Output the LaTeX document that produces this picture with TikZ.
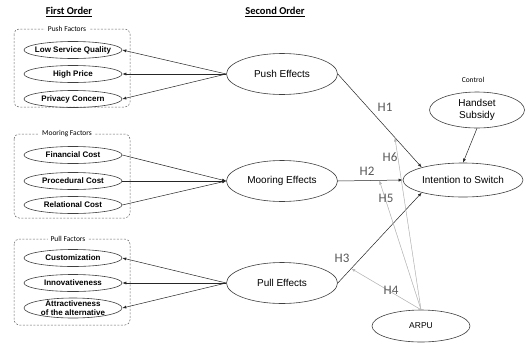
\documentclass[tikz,border=0pt]{standalone}
\usepackage{fontspec}
\setmainfont{Liberation Sans}
\newfontfamily\calib{Carlito}
\usetikzlibrary{shapes.geometric,arrows.meta,calc}
% zero-width text so the ellipse keeps its own size
\newcommand\zw[1]{\makebox[0pt][c]{#1}}
\begin{document}
\begin{tikzpicture}[x=1pt,y=-1pt,
  every node/.style={inner sep=0pt},
  fo/.style={ellipse,draw=black!75,line width=0.6pt,minimum width=98pt,minimum height=17pt,
    font=\bfseries\fontsize{8}{9}\selectfont},
  so/.style={ellipse,draw=black!75,line width=0.6pt,font=\fontsize{10}{12}\selectfont,align=center},
  grp/.style={draw=black!60,dash pattern=on 2pt off 1.5pt,rounded corners=5pt,line width=0.5pt},
  grplab/.style={fill=white,inner xsep=3pt,inner ysep=1pt,font=\calib\fontsize{7.5}{8}\selectfont},
  ttl/.style={font=\calib\bfseries\fontsize{10.5}{12}\selectfont},
  hyp/.style={font=\calib\fontsize{13}{14}\selectfont,text=black!65},
  arr/.style={-{Latex[length=4pt,width=3pt]},line width=0.5pt,draw=black!85},
  garr/.style={-{Latex[length=4pt,width=3pt]},line width=0.5pt,draw=black!28,fill=black!28}
]
\fill[white] (0,0) rectangle (526,343);

% titles
\node[ttl] (t1) at (69,12) {\underline{First Order}};
\node[ttl] (t2) at (275,12) {\underline{Second Order}};

% first-order groups
\draw[grp] (14,29) rectangle (130,107);
\node[grplab] (gpush) at (67,29) {Push Factors};
\draw[grp] (14,134) rectangle (130,218);
\node[grplab] (gmoor) at (67,134) {Mooring Factors};
\draw[grp] (14,239) rectangle (130,325);
\node[grplab] (gpull) at (68,239) {Pull Factors};

\node[fo] (lsq) at (73,50) {\zw{Low Service Quality}};
\node[fo] (hp)  at (73,74) {\zw{High Price}};
\node[fo] (pc)  at (73,99) {\zw{Privacy Concern}};

\node[fo] (fc) at (73,155) {\zw{Financial Cost}};
\node[fo] (prc) at (73,181) {\zw{Procedural Cost}};
\node[fo] (rc) at (73,205) {\zw{Relational Cost}};

\node[fo] (cu) at (73,258) {\zw{Customization}};
\node[fo] (inn) at (73,283) {\zw{Innovativeness}};
\node[fo,minimum height=20pt,font=\fontsize{8}{9}\selectfont\bfseries] (att) at (73,308)
  {\zw{\vbox to 6pt{\vss\hbox to 0pt{\hss Attractiveness\hss}\hbox to 0pt{\hss of the alternative\hss}\vss}}};

% second-order constructs
\node[so,minimum width=111pt,minimum height=41pt] (pushe) at (282,74) {Push Effects};
\node[so,minimum width=111pt,minimum height=41pt] (moore) at (282,181) {Mooring Effects};
\node[so,minimum width=111pt,minimum height=41pt] (pulle) at (282,283) {Pull Effects};

\node[so,minimum width=120pt,minimum height=34pt] (its) at (463,180) {Intention to Switch};
\node[so,minimum width=95pt,minimum height=36pt] (hs) at (477,110) {Handset\\Subsidy};
\node[font=\calib\fontsize{7.5}{8}\selectfont] (ctl) at (473,80) {Control};
\node[so,minimum width=98pt,minimum height=32pt,font=\fontsize{8.5}{10}\selectfont] (arpu) at (421,326) {ARPU};

% second order to first order
\draw[arr] (pushe.west) -- (lsq.east);
\draw[arr] (pushe.west) -- (hp.east);
\draw[arr] (pushe.west) -- (pc.east);
\draw[arr] (fc.east) -- (moore.west);
\draw[arr] (prc.east) -- (moore.west);
\draw[arr] (rc.east) -- (moore.west);
\draw[arr] (pulle.west) -- (cu.east);
\draw[arr] (pulle.west) -- (inn.east);
\draw[arr] (pulle.west) -- (att.east);

% structural paths
\draw[arr] (pushe.east) -- coordinate[pos=0.68] (h6pt) (its.163);
\draw[arr] (moore.east) -- coordinate[pos=0.64] (h5pt) (its.west);
\draw[arr] (pulle.east) -- coordinate[pos=0.16] (h4pt) (its.197);
\draw[arr] (hs.south) -- (its.north);

% moderating paths
\draw[garr] (arpu.north) -- (h6pt);
\draw[garr] (arpu.north) -- (h5pt);
\draw[garr] (arpu.north) -- (h4pt);

% hypothesis labels
\node[hyp] (H1) at (385,107) {H1};
\node[hyp] (H2) at (367,171) {H2};
\node[hyp] (H3) at (342,258) {H3};
\node[hyp] (H4) at (391,290) {H4};
\node[hyp] (H5) at (386,198) {H5};
\node[hyp] (H6) at (390,157) {H6};
\end{tikzpicture}
\end{document}
